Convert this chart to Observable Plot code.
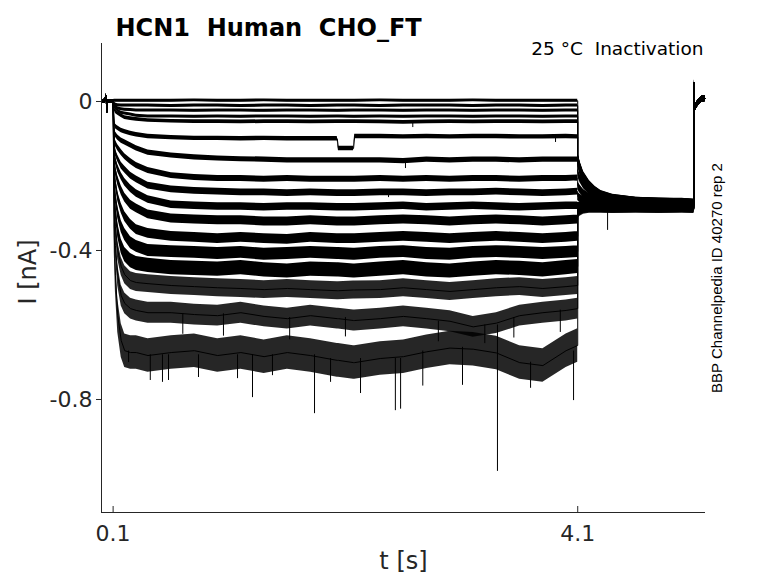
<!DOCTYPE html>
<html><head><meta charset="utf-8">
<script src="https://cdn.jsdelivr.net/npm/d3@7"></script>
<script src="https://cdn.jsdelivr.net/npm/@observablehq/plot@0.6"></script>
<style>
html,body{margin:0;padding:0;background:#fff;}
svg text{white-space:pre;}
</style></head><body><div id="chart"></div>
<script>
const TITLE = "HCN1  Human  CHO_FT";
const SUBTITLE = "25 °C  Inactivation";
const SIDE_NOTE = "BBP Channelpedia ID 40270 rep 2";
const X_LABEL = "t [s]";
const Y_LABEL = "I [nA]";
const X_DOMAIN = [0, 5.2];
const Y_DOMAIN = [-1.1034, 0.1557];
const X_TICKS = [0.1, 4.1];
const Y_TICKS = [0, -0.4, -0.8];

// holding period (shared by all sweeps)
const T_PRE = [0, 0.03, 0.042, 0.044, 0.05, 0.09];
const V_PRE = [0, 0.001, 0.016, -0.03, 0, 0];

// conditioning step, shared time grid
const T_ON = [0.1, 0.11, 0.12, 0.14, 0.17, 0.2, 0.25, 0.3, 0.4,
  0.6, 0.8, 1.0, 1.2, 1.4, 1.6, 1.8,
  2.03, 2.04, 2.17, 2.18,
  2.4, 2.6, 2.8, 3.0, 3.2, 3.4, 3.6, 3.8, 4.0, 4.1];

const I1 = [0, 0.002, 0.002, 0.002, 0.002, 0.002, 0.002, 0.002, 0.002,
  0.002, 0.003, 0.002, 0.002, 0.003, 0.002, 0.002,
  0.002, 0.002, 0.002, 0.002,
  0.003, 0.002, 0.002, 0.002, 0.003, 0.002, 0.002, 0.002, 0.002, 0.002];
const I2 = [0, -0.005, -0.008, -0.010, -0.011, -0.011, -0.011, -0.011, -0.011,
  -0.012, -0.011, -0.011, -0.012, -0.011, -0.011, -0.012,
  -0.011, -0.011, -0.011, -0.011,
  -0.012, -0.011, -0.011, -0.011, -0.012, -0.011, -0.011, -0.012, -0.011, -0.011];
const I3 = [0, -0.008, -0.013, -0.018, -0.021, -0.022, -0.023, -0.024, -0.024,
  -0.024, -0.025, -0.024, -0.024, -0.025, -0.024, -0.024,
  -0.025, -0.025, -0.024, -0.024,
  -0.024, -0.025, -0.024, -0.024, -0.025, -0.024, -0.024, -0.025, -0.024, -0.024];
const I4 = [0, -0.013, -0.019, -0.024, -0.030, -0.032, -0.035, -0.038, -0.040,
  -0.040, -0.041, -0.040, -0.041, -0.040, -0.040, -0.041,
  -0.040, -0.040, -0.041, -0.041,
  -0.040, -0.041, -0.040, -0.040, -0.041, -0.040, -0.040, -0.041, -0.040, -0.040];
const I5 = [0, -0.019, -0.027, -0.032, -0.038, -0.043, -0.046, -0.048, -0.051,
  -0.053, -0.054, -0.054, -0.055, -0.054, -0.054, -0.055,
  -0.054, -0.054, -0.054, -0.054,
  -0.055, -0.056, -0.055, -0.054, -0.055, -0.054, -0.054, -0.055, -0.054, -0.054];
const I6 = [0, -0.056, -0.067, -0.072, -0.078, -0.081, -0.086, -0.089, -0.094,
  -0.097, -0.099, -0.099, -0.100, -0.099, -0.100, -0.100,
  -0.100, -0.126, -0.126, -0.094,
  -0.094, -0.095, -0.094, -0.095, -0.094, -0.094, -0.095, -0.095, -0.094, -0.095];
const I7 = [0, -0.078, -0.089, -0.097, -0.105, -0.110, -0.118, -0.126, -0.137,
  -0.145, -0.150, -0.153, -0.155, -0.156, -0.158, -0.158,
  -0.158, -0.158, -0.158, -0.158,
  -0.158, -0.160, -0.156, -0.158, -0.156, -0.156, -0.158, -0.156, -0.156, -0.156];
const I8 = [0, -0.099, -0.113, -0.124, -0.137, -0.148, -0.161, -0.172, -0.185,
  -0.199, -0.204, -0.207, -0.207, -0.209, -0.207, -0.209,
  -0.209, -0.209, -0.209, -0.209,
  -0.207, -0.209, -0.207, -0.209, -0.207, -0.207, -0.209, -0.207, -0.207, -0.205];
const I9 = [0, -0.118, -0.137, -0.153, -0.172, -0.183, -0.199, -0.209, -0.226,
  -0.236, -0.240, -0.242, -0.244, -0.244, -0.246, -0.244,
  -0.246, -0.246, -0.246, -0.246,
  -0.244, -0.244, -0.246, -0.244, -0.244, -0.242, -0.244, -0.246, -0.244, -0.242];
const I10 = [0, -0.137, -0.158, -0.180, -0.201, -0.217, -0.234, -0.247, -0.263,
  -0.277, -0.280, -0.282, -0.282, -0.284, -0.282, -0.282,
  -0.284, -0.284, -0.284, -0.284,
  -0.282, -0.280, -0.284, -0.282, -0.280, -0.282, -0.284, -0.282, -0.280, -0.280];
const I11 = [0, -0.158, -0.185, -0.212, -0.239, -0.258, -0.277, -0.287, -0.303,
  -0.314, -0.317, -0.319, -0.319, -0.322, -0.322, -0.319,
  -0.322, -0.322, -0.322, -0.322,
  -0.319, -0.317, -0.319, -0.322, -0.319, -0.317, -0.319, -0.322, -0.319, -0.317];
const I12 = [0, -0.180, -0.217, -0.255, -0.287, -0.309, -0.330, -0.344, -0.354,
  -0.362, -0.365, -0.368, -0.365, -0.368, -0.370, -0.365,
  -0.368, -0.368, -0.368, -0.368,
  -0.365, -0.362, -0.365, -0.368, -0.365, -0.362, -0.365, -0.368, -0.365, -0.362];
const I13 = [0, -0.207, -0.255, -0.298, -0.336, -0.357, -0.379, -0.389, -0.400,
  -0.403, -0.405, -0.408, -0.405, -0.410, -0.408, -0.405,
  -0.408, -0.408, -0.410, -0.410,
  -0.405, -0.403, -0.408, -0.410, -0.405, -0.403, -0.405, -0.408, -0.405, -0.403];
const I14 = [0, -0.234, -0.293, -0.346, -0.389, -0.411, -0.427, -0.435, -0.440,
  -0.446, -0.448, -0.450, -0.446, -0.452, -0.455, -0.450,
  -0.452, -0.452, -0.455, -0.455,
  -0.450, -0.446, -0.452, -0.455, -0.450, -0.446, -0.448, -0.452, -0.446, -0.443];
const I15 = [0, -0.266, -0.336, -0.400, -0.443, -0.465, -0.481, -0.486, -0.489,
  -0.494, -0.497, -0.500, -0.502, -0.505, -0.502, -0.505,
  -0.508, -0.508, -0.506, -0.506,
  -0.505, -0.500, -0.505, -0.510, -0.505, -0.500, -0.497, -0.502, -0.497, -0.494];
const I16 = [0, -0.306, -0.387, -0.467, -0.521, -0.542, -0.556, -0.561, -0.567,
  -0.567, -0.572, -0.575, -0.567, -0.577, -0.583, -0.575,
  -0.583, -0.583, -0.588, -0.588,
  -0.583, -0.577, -0.583, -0.590, -0.605, -0.595, -0.575, -0.567, -0.561, -0.556];
const I17 = [0, -0.360, -0.467, -0.575, -0.642, -0.669, -0.674, -0.674, -0.682,
  -0.674, -0.669, -0.682, -0.674, -0.685, -0.674, -0.682,
  -0.695, -0.695, -0.701, -0.701,
  -0.690, -0.685, -0.672, -0.662, -0.665, -0.675, -0.701, -0.709, -0.669, -0.655];

// test pulse (tail currents)
const T_TAIL = [4.1, 4.12, 4.15, 4.2, 4.25, 4.3, 4.4, 4.6, 4.8, 5.0, 5.1];
const TAIL1 = [-0.145, -0.172, -0.199, -0.223, -0.239, -0.250, -0.260, -0.268, -0.271, -0.271, -0.274];
const TAIL2 = [-0.148, -0.174, -0.201, -0.225, -0.240, -0.251, -0.261, -0.268, -0.270, -0.272, -0.273];
const TAIL3 = [-0.150, -0.176, -0.203, -0.226, -0.241, -0.252, -0.262, -0.269, -0.271, -0.272, -0.274];
const TAIL4 = [-0.153, -0.179, -0.205, -0.228, -0.242, -0.253, -0.262, -0.269, -0.272, -0.272, -0.274];
const TAIL5 = [-0.156, -0.182, -0.207, -0.229, -0.243, -0.254, -0.263, -0.270, -0.272, -0.273, -0.274];
const TAIL6 = [-0.164, -0.188, -0.210, -0.231, -0.245, -0.255, -0.264, -0.270, -0.272, -0.273, -0.275];
const TAIL7 = [-0.191, -0.207, -0.223, -0.239, -0.250, -0.258, -0.266, -0.271, -0.274, -0.274, -0.276];
const TAIL8 = [-0.226, -0.236, -0.247, -0.258, -0.264, -0.268, -0.272, -0.276, -0.277, -0.277, -0.278];
const TAIL9 = [-0.255, -0.260, -0.266, -0.270, -0.273, -0.275, -0.277, -0.278, -0.279, -0.279, -0.280];
const TAIL10 = [-0.282, -0.281, -0.280, -0.280, -0.281, -0.280, -0.281, -0.280, -0.281, -0.280, -0.281];
const TAIL11 = [-0.288, -0.286, -0.284, -0.283, -0.284, -0.283, -0.284, -0.283, -0.284, -0.283, -0.284];
const TAIL12 = [-0.290, -0.287, -0.285, -0.284, -0.285, -0.284, -0.285, -0.284, -0.285, -0.284, -0.285];
const TAIL13 = [-0.293, -0.290, -0.287, -0.286, -0.286, -0.285, -0.286, -0.285, -0.286, -0.285, -0.286];
const TAIL14 = [-0.295, -0.291, -0.288, -0.286, -0.287, -0.286, -0.287, -0.286, -0.287, -0.286, -0.287];
const TAIL15 = [-0.297, -0.293, -0.289, -0.287, -0.287, -0.287, -0.288, -0.287, -0.288, -0.287, -0.288];
const TAIL16 = [-0.300, -0.295, -0.290, -0.288, -0.288, -0.288, -0.289, -0.288, -0.289, -0.288, -0.289];
const TAIL17 = [-0.303, -0.297, -0.292, -0.289, -0.289, -0.289, -0.290, -0.289, -0.290, -0.289, -0.290];

// return to holding (shared)
const T_OFF = [5.101, 5.104, 5.12, 5.14, 5.17, 5.2];
const V_OFF = [0.051, -0.024, -0.012, -0.002, 0.006, 0.008];

// noise half-widths (nA)
const NOISE_ON = [0.004, 0.004, 0.004, 0.004, 0.005, 0.006, 0.007, 0.008, 0.009,
  0.010, 0.012, 0.013, 0.016, 0.019, 0.024, 0.028, 0.045];
const NOISE_PRE = 0.005;
const NOISE_TAIL = 0.011;
const NOISE_OFF = 0.008;

// isolated downward spikes
const SPIKE_T    = [0.233, 0.42, 0.525, 0.577, 0.835, 1.171, 1.30, 1.472, 1.834, 1.972, 2.23, 2.53, 2.575, 2.766, 3.108, 3.409, 3.694, 4.064,
  0.70, 1.05, 1.62, 2.10, 2.90, 3.30, 3.55, 3.95,
  2.68, 2.617, 3.909, 2.471, 4.357];
const SPIKE_FROM = [-0.67, -0.68, -0.68, -0.68, -0.68, -0.68, -0.68, -0.68, -0.68, -0.69, -0.69, -0.69, -0.69, -0.67, -0.66, -0.60, -0.70, -0.67,
  -0.57, -0.57, -0.58, -0.58, -0.59, -0.60, -0.58, -0.56,
  -0.054, -0.156, -0.094, -0.244, -0.28];
const SPIKE_TO   = [-0.701, -0.749, -0.754, -0.749, -0.741, -0.744, -0.795, -0.736, -0.838, -0.754, -0.784, -0.830, -0.826, -0.764, -0.762, -0.993, -0.770, -0.803,
  -0.625, -0.630, -0.640, -0.632, -0.645, -0.650, -0.635, -0.620,
  -0.070, -0.180, -0.110, -0.258, -0.346];

const ON = [I1, I2, I3, I4, I5, I6, I7, I8, I9, I10, I11, I12, I13, I14, I15, I16, I17];
const TAIL = [TAIL1, TAIL2, TAIL3, TAIL4, TAIL5, TAIL6, TAIL7, TAIL8, TAIL9, TAIL10, TAIL11, TAIL12, TAIL13, TAIL14, TAIL15, TAIL16, TAIL17];

const rows = [];
ON.forEach((on, k) => {
  const o = NOISE_ON[k] > 0.02 ? 0.85 : 1;  // very noisy sweeps read as a lighter scribble
  T_PRE.forEach((t, i) => rows.push({trace: k, o, t, v: V_PRE[i], n: NOISE_PRE}));
  T_ON.forEach((t, i) => rows.push({trace: k, o, t, v: on[i], n: i === 0 ? NOISE_PRE : NOISE_ON[k]}));
  T_TAIL.forEach((t, i) => rows.push({trace: k, o, t, v: TAIL[k][i], n: NOISE_TAIL}));
  T_OFF.forEach((t, i) => rows.push({trace: k, o, t, v: V_OFF[i], n: NOISE_OFF}));
});
const spikes = SPIKE_T.map((t, i) => ({t, a: SPIKE_FROM[i], b: SPIKE_TO[i]}));

const AX = "#262626";
const chart = Plot.plot({
  width: 778, height: 583,
  marginLeft: 101, marginRight: 73, marginTop: 43, marginBottom: 71,
  style: {fontFamily: "DejaVu Sans", background: "#fff", color: AX},
  x: {domain: X_DOMAIN},
  y: {domain: Y_DOMAIN},
  marks: [
    Plot.areaY(rows, {x: "t", y1: d => d.v - d.n, y2: d => d.v + d.n, z: "trace", fill: "#000", fillOpacity: "o"}),
    Plot.line(rows, {x: "t", y: "v", z: "trace", stroke: "#000", strokeWidth: 1}),
    Plot.ruleX(spikes, {x: "t", y1: "a", y2: "b", stroke: "#000", strokeWidth: 1}),
    Plot.ruleX([X_DOMAIN[0]], {stroke: AX, strokeWidth: 1}),
    Plot.ruleY([Y_DOMAIN[0]], {stroke: AX, strokeWidth: 1}),
    Plot.axisY({ticks: Y_TICKS, tickSize: 5, tickPadding: 4, tickFormat: d => String(d), fontSize: 22, label: null, stroke: AX}),
    Plot.axisX({ticks: X_TICKS, tickSize: -6, tickPadding: 19, tickFormat: d => String(d), fontSize: 22, label: null, stroke: AX}),
    Plot.text([Y_LABEL], {frameAnchor: "left", textAnchor: "middle", dx: -73, dy: -6, rotate: -90, fontSize: 24, fill: AX}),
    Plot.text([X_LABEL], {frameAnchor: "bottom", dy: 56, fontSize: 24, fill: AX}),
    Plot.text([TITLE], {frameAnchor: "top-left", dx: 14, dy: -25, textAnchor: "start", fontWeight: "bold", fontSize: 24, fill: "#000"}),
    Plot.text([SUBTITLE], {frameAnchor: "top-right", dx: -2, dy: -2, textAnchor: "end", fontSize: 18.5, fill: "#000"}),
    Plot.text([SIDE_NOTE], {frameAnchor: "right", textAnchor: "middle", dx: 12, rotate: -90, fontSize: 15, fontFamily: "Liberation Sans", fill: "#000"})
  ]
});
document.getElementById("chart").appendChild(chart);
</script>
</body></html>
